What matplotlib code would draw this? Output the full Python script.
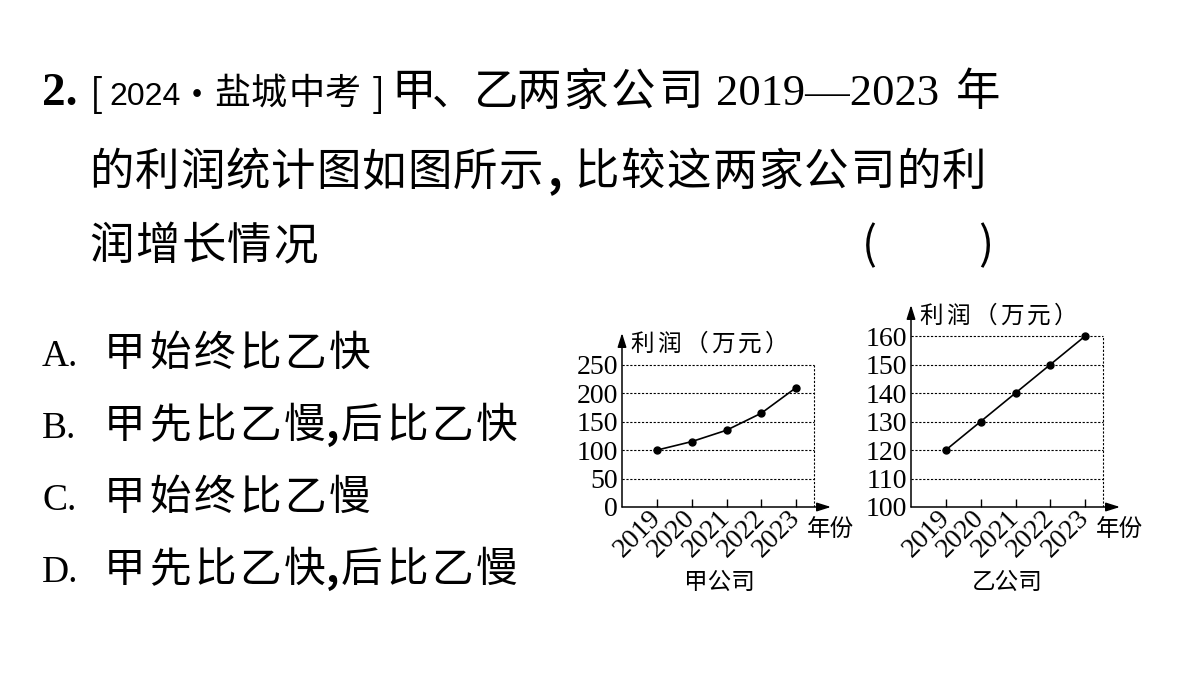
import matplotlib
matplotlib.use('Agg')
import matplotlib.pyplot as plt
from matplotlib import font_manager

plt.rcParams['font.family'] = ['Noto Sans CJK SC', 'DejaVu Sans']

# data
years = [2019, 2020, 2021, 2022, 2023]
profit_jia = [100, 115, 135, 165, 210]
profit_yi = [120, 130, 140, 150, 160]
yticks_jia = [0, 50, 100, 150, 200, 250]
yticks_yi = [100, 110, 120, 130, 140, 150, 160]

W, H = 1200, 675
fig = plt.figure(figsize=(12, 6.75), dpi=100)
fig.patch.set_facecolor('white')

SERIF = 'Liberation Serif'
names = {f.name for f in font_manager.fontManager.ttflist}
if 'Liberation Sans Narrow' in names:
    NARROW, NARROW_SIZE = 'Liberation Sans Narrow', 28
else:
    NARROW, NARROW_SIZE = 'Liberation Sans', 23


def px(x, y):
    return x / W, 1 - y / H


def put(x, y, s, size, **kw):
    kw.setdefault('va', 'baseline')
    return fig.text(*px(x, y), s, fontsize=size, **kw)


def chars(x, y, s, pitch, size, **kw):
    # spread CJK glyphs out like the printed page
    for i, c in enumerate(s):
        put(x + i * pitch, y, c, size, **kw)


Q = 32   # question CJK size
O = 30   # option CJK size

# ---- question text ----
put(42, 105, '2.', 34, family=SERIF, weight='bold')
put(90, 107, '[', 28, weight='light')
put(109, 105, '2024', NARROW_SIZE, family=NARROW)
put(197, 107, '·', 26, ha='center')
chars(214, 104, '盐城中考', 37, 26)
put(372, 107, ']', 28, weight='light')
put(391, 105, '甲', Q)
put(432, 105, '、', 30)
put(474, 105, '乙', Q)
chars(516, 105, '两家公司', 47.5, Q)
put(716, 105, '2019—2023', 32, family=SERIF)
put(956, 105, '年', Q)

chars(89, 185, '的利润统计图如图所示', 45.5, Q)
put(548, 185, ',', Q, weight='bold')
chars(574, 185, '比较这两家公司的利', 46, Q)

chars(89, 259, '润增长情况', 46, Q)
put(862, 259, '(', Q)
put(978, 259, ')', Q)

# ---- options ----
opts = [('A.', '甲始终比乙快', ''),
        ('B.', '甲先比乙慢', '后比乙快'),
        ('C.', '甲始终比乙慢', ''),
        ('D.', '甲先比乙快', '后比乙慢')]
for k, (letter, first, second) in enumerate(opts):
    base = 366 + 72 * k
    put(42, base, letter, 27, family=SERIF)
    chars(104, base, first, 45, O)
    if second:
        put(326, base, ',', O, weight='bold')
        chars(341, base, second, 45, O)


# ---- charts ----
def chart(left, top, right, bottom, ymin, ymax, yticks, values, title, tx):
    x0, y0 = px(left, bottom)
    ax = fig.add_axes([x0, y0, (right - left) / W, (bottom - top) / H])
    ax.set_xlim(2018, 2024)
    ax.set_ylim(ymin, ymax)
    for s in ax.spines.values():
        s.set_visible(False)
    ax.patch.set_alpha(0)

    ax.hlines(yticks[1:], 2018, 2023.5, colors='k', linestyles=(0, (2, 1.5)), lw=0.8)
    ax.vlines(2023.5, ymin, yticks[-1], colors='k', linestyles=(0, (2, 1.5)), lw=0.8)

    arrow = dict(arrowstyle='-|>,head_length=0.7,head_width=0.22', color='k',
                 lw=1.1, shrinkA=0, shrinkB=0, mutation_scale=12)
    ax.annotate('', xy=(1, 0), xytext=(0, 0), xycoords='axes fraction', arrowprops=arrow)
    ax.annotate('', xy=(0, 1), xytext=(0, 0), xycoords='axes fraction', arrowprops=arrow)

    ax.plot(years, values, color='k', lw=1.2, marker='o', ms=5, clip_on=False)

    ax.set_xticks(years)
    ax.set_xticklabels([str(y) for y in years], rotation=45, ha='right', va='center',
                       rotation_mode='anchor', family=SERIF, fontsize=20)
    ax.tick_params(axis='x', direction='in', length=6, width=1, pad=5)
    ax.set_yticks(yticks)
    ax.set_yticklabels([str(v) for v in yticks], family=SERIF, fontsize=20)
    ax.tick_params(axis='y', length=0, pad=3)

    chars(left + 20, top + 18, '利润（万元）', 27, 17, ha='center')
    put(right - 24, bottom + 29, '年份', 17)
    put(tx, bottom + 82, title, 17, ha='center')
    return ax


chart(622, 333, 831, 507, 0, 306, yticks_jia, profit_jia, '甲公司', 719)
chart(911, 305, 1120, 507, 100, 170.9, yticks_yi, profit_yi, '乙公司', 1007)

fig.savefig('out.png', dpi=100)
